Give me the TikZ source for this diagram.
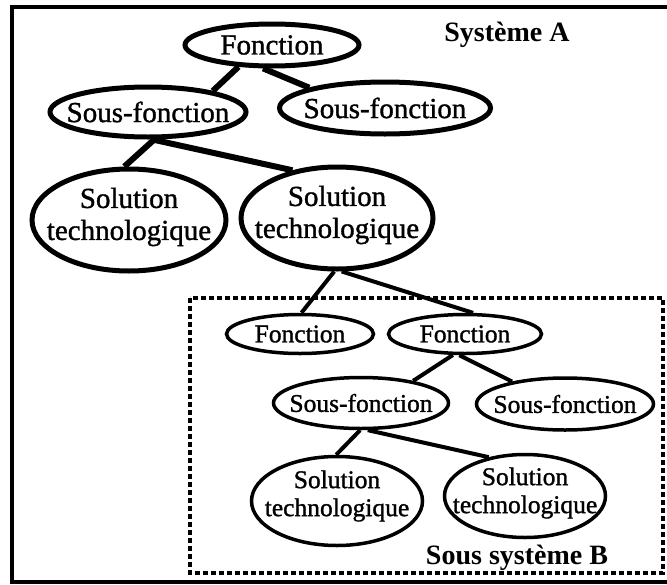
\documentclass[tikz,border=0pt]{standalone}
\usepackage{fontspec}
\setmainfont{Liberation Serif}
\newfontfamily\medserif{Liberation Serif}[FakeBold=1.2]
\usetikzlibrary{shapes.geometric,backgrounds}
\begin{document}
\begin{tikzpicture}[x=1pt,y=-1pt,
  topell/.style={ellipse,draw,fill=white,line width=5pt,inner sep=0pt},
  botell/.style={ellipse,draw,fill=white,line width=3.5pt,inner sep=0pt},
  toptxt/.style={font=\medserif\fontsize{29}{32}\selectfont,align=center,inner sep=0pt},
  bottxt/.style={font=\medserif\fontsize{25.5}{28}\selectfont,align=center,inner sep=0pt},
  lbl/.style={font=\fontsize{28}{30}\selectfont\bfseries,inner sep=0pt},
  topcon/.style={line width=6pt},
  midcon/.style={line width=4pt},
  botcon/.style={line width=4pt},
  frameline/.style={line width=3.5pt},
  dashbox/.style={line width=3.5pt,dash pattern=on 5pt off 3pt},
]
\useasboundingbox (0,0) rectangle (667,584);

% outer frame
\draw[frameline] (670,7) -- (12,7) -- (12,582) -- (670,582);
% sub-system box
\draw[dashbox] (190,298) rectangle (663,573);

% system A
\node[topell,minimum width=174pt,minimum height=42pt] (f0) at (272,45) {};
\node[topell,minimum width=196pt,minimum height=50pt] (sfL) at (148,112) {};
\node[topell,minimum width=211pt,minimum height=52pt] (sfR) at (385,108) {};
\node[topell,minimum width=194pt,minimum height=102pt] (stL) at (129,220) {};
\node[topell,minimum width=192pt,minimum height=102pt] (stR) at (337,218) {};

% sub-system B
\node[botell,minimum width=147pt,minimum height=39pt] (bf1) at (300,334) {};
\node[botell,minimum width=153pt,minimum height=39pt] (bf2) at (465,334) {};
\node[botell,minimum width=175pt,minimum height=51pt] (bsfL) at (361,403) {};
\node[botell,minimum width=177pt,minimum height=52pt] (bsfR) at (565,404) {};
\node[botell,minimum width=171pt,minimum height=89pt] (bstL) at (337,501) {};
\node[botell,minimum width=161pt,minimum height=83pt] (bstR) at (525,496) {};

% texts
\node[toptxt] (f0t) at (f0.center) {Fonction};
\node[toptxt] (sfLt) at (sfL.center) {Sous-fonction};
\node[toptxt] (sfRt) at (sfR.center) {Sous-fonction};
\node[toptxt] (stLt) at ([yshift=3pt]stL.center) {Solution\\technologique};
\node[toptxt] (stRt) at ([yshift=3pt]stR.center) {Solution\\technologique};
\node[bottxt] (bf1t) at (bf1.center) {Fonction};
\node[bottxt] (bf2t) at (bf2.center) {Fonction};
\node[bottxt] (bsfLt) at (bsfL.center) {Sous-fonction};
\node[bottxt] (bsfRt) at (bsfR.center) {Sous-fonction};
\node[bottxt] (bstLt) at ([yshift=5pt]bstL.center) {Solution\\technologique};
\node[bottxt] (bstRt) at ([yshift=3pt]bstR.center) {Solution\\technologique};

\node[lbl] (sysA) at (507,35) {Système A};
\node[lbl] (sysB) at (517,558) {Sous système B};

% connectors (behind the ellipses)
\begin{scope}[on background layer]
\fill[white] (0,0) rectangle (667,584);
\draw[topcon] (f0.213) -- (sfL.18);
\draw[topcon] (f0.249) -- (sfR.165);
\draw[topcon] (sfL.283) -- (stL.95);
\draw[topcon] (sfL.279) -- (stR.133);
\draw[midcon] (stR.267) -- (bf1.86);
\draw[midcon] (stR.275) -- (bf2.69);
\draw[botcon] (bf2.240) -- (bsfL.23);
\draw[botcon] (bf2.255) -- (bsfR.157);
\draw[botcon] (bsfL.268) -- (bstL.91);
\draw[botcon] (bsfL.284) -- (bstR.133);
\end{scope}
\end{tikzpicture}
\end{document}
